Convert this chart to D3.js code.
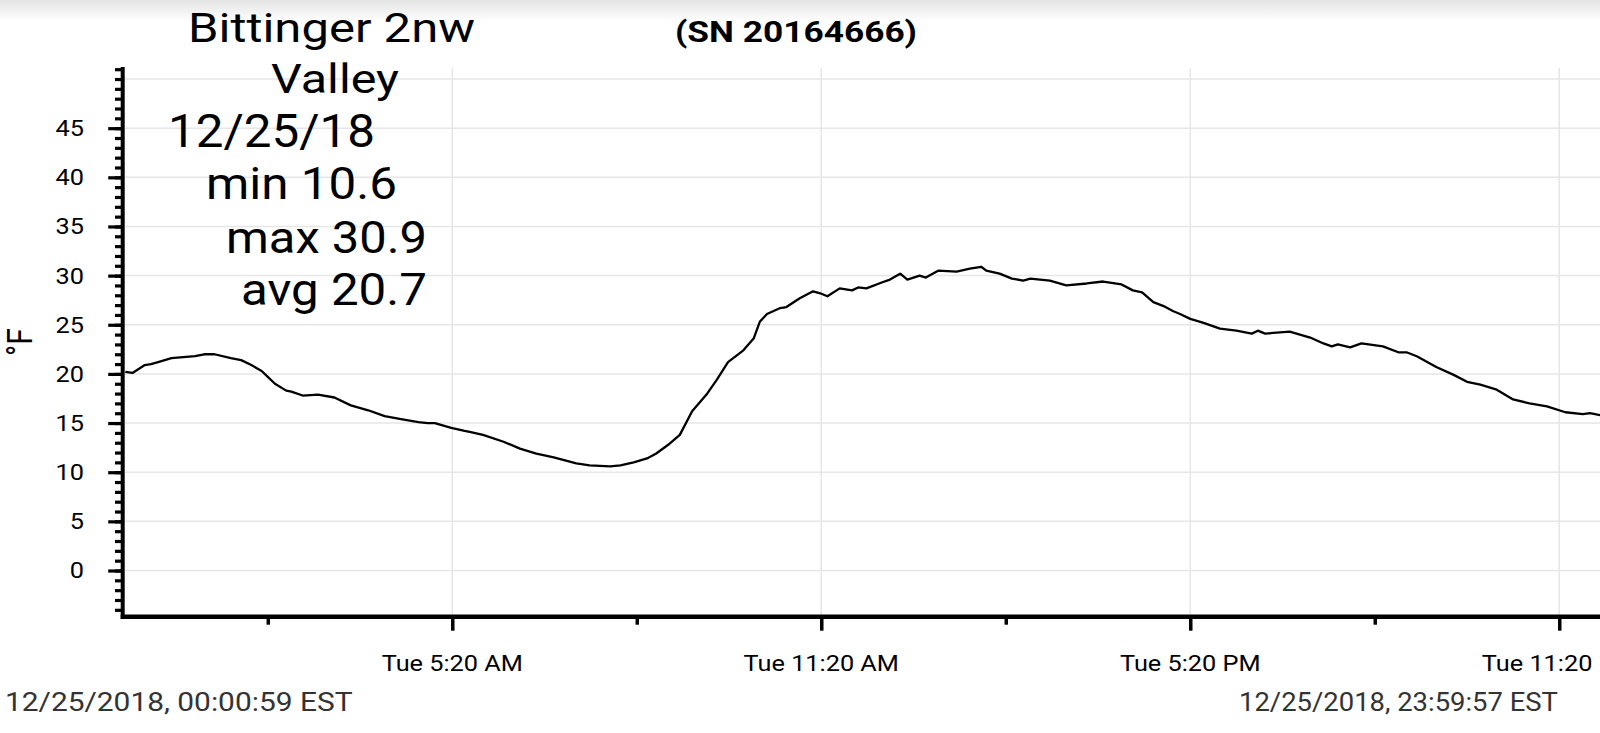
<!DOCTYPE html>
<html><head><meta charset="utf-8">
<script src="https://cdn.jsdelivr.net/npm/d3@7"></script>
<style>html,body{margin:0;padding:0;background:#fff;overflow:hidden}</style>
</head><body>
<svg id="chart" width="1600" height="733"></svg>
<script>
// ---------- data ----------
const times = ["00:00:59","00:08","00:20","00:26","00:33","00:46","01:09","01:18","01:28","01:44","01:54","02:04","02:14","02:20","02:27","02:38","02:43","02:54","03:09","03:25","03:41","03:58","04:14","04:30","04:47","04:56","05:03","05:19","05:32","05:37","05:50","06:10","06:26","06:42","06:59","07:21","07:34","07:54","08:04","08:17","08:30","08:39","08:52","09:02","09:14","09:28","09:38","09:49","10:04","10:14","10:20","10:27","10:40","10:46","10:59","11:12","11:19","11:26","11:38","11:50","11:56","12:04","12:19","12:27","12:37","12:44","12:56","13:02","13:14","13:32","13:45","13:56","14:01","14:14","14:26","14:37","14:44","15:03","15:19","15:39","15:55","16:13","16:24","16:33","16:44","16:54","17:03","17:10","17:20","17:33","17:49","18:05","18:20","18:26","18:33","18:57","19:17","19:30","19:38","19:44","19:56","20:07","20:28","20:43","20:51","21:01","21:20","21:37","21:50","22:03","22:19","22:35","22:51","23:08","23:26","23:43","23:50","23:59:57"];
const temps = [20.2,20.1,20.9,21.0,21.2,21.6,21.8,22.0,22.0,21.6,21.4,20.9,20.3,19.7,19.0,18.3,18.2,17.8,17.9,17.6,16.8,16.3,15.7,15.4,15.1,15.0,15.0,14.5,14.2,14.1,13.8,13.1,12.4,11.9,11.5,10.9,10.7,10.6,10.7,11.0,11.4,11.9,12.9,13.8,16.2,17.9,19.4,21.2,22.4,23.6,25.3,26.1,26.7,26.8,27.7,28.4,28.2,27.9,28.7,28.5,28.8,28.7,29.3,29.6,30.2,29.6,30.0,29.8,30.5,30.4,30.7,30.9,30.5,30.2,29.7,29.5,29.7,29.5,29.0,29.2,29.4,29.1,28.5,28.3,27.3,26.9,26.4,26.1,25.6,25.2,24.6,24.4,24.1,24.4,24.1,24.3,23.7,23.1,22.8,23.0,22.7,23.1,22.8,22.2,22.2,21.8,20.7,19.9,19.2,18.9,18.4,17.4,17.0,16.7,16.1,15.9,16.0,15.8];

const yMajorTicks = [0,5,10,15,20,25,30,35,40,45];
const yGridValues = [0,5,10,15,20,25,30,35,40,45,50];
const yDomain = [-4.7, 51];
const xMajorTickTimes = ["05:20","11:20","17:20","23:20"];
const xMajorTickLabels = ["Tue 5:20 AM","Tue 11:20 AM","Tue 5:20 PM","Tue 11:20 PM"];
const xMinorTickTimes = ["02:20","08:20","14:20","20:20"];
const startTime = "00:00:59", endTime = "23:59:57";

const titleLines = ["Bittinger 2nw","Valley","12/25/18","min 10.6","max 30.9","avg 20.7"];
const serialLabel = "(SN 20164666)";
const unitLabel = "°F";
const startLabel = "12/25/2018, 00:00:59 EST";
const endLabel = "12/25/2018, 23:59:57 EST";

// ---------- helpers ----------
const parse = s => { const p = s.split(":").map(Number); return new Date(2018, 11, 25, p[0], p[1], p[2] || 0); };
const data = times.map((t, i) => ({t: parse(t), v: temps[i]}));
const FONT = "Roboto, 'Noto Sans', sans-serif";
const SX = 1.15;

const svg = d3.select("#chart");
const defs = svg.append("defs");
const grad = defs.append("linearGradient").attr("id","topShade").attr("x1",0).attr("y1",0).attr("x2",0).attr("y2",1);
grad.append("stop").attr("offset","0%").attr("stop-color","#e4e4e4");
grad.append("stop").attr("offset","100%").attr("stop-color","#ffffff");
svg.append("rect").attr("x",0).attr("y",0).attr("width",1600).attr("height",733).attr("fill","#fff");
svg.append("rect").attr("x",0).attr("y",0).attr("width",1600).attr("height",22).attr("fill","url(#topShade)");

const x = d3.scaleTime().domain([parse(startTime), parse(endTime)]).range([125.3, 1600.2]);
const y = d3.scaleLinear().domain(yDomain).range([616.7, 69.2]);
const axisX = 122.7, axisY = 616.7;

// grid
svg.append("g").selectAll("line").data(yGridValues).join("line")
  .attr("x1", axisX + 2).attr("x2", 1600)
  .attr("y1", d => y(d)).attr("y2", d => y(d))
  .attr("stroke", "#e6e6e6").attr("stroke-width", 1.5);
svg.append("g").selectAll("line").data(xMajorTickTimes).join("line")
  .attr("x1", d => x(parse(d))).attr("x2", d => x(parse(d)))
  .attr("y1", 68).attr("y2", axisY)
  .attr("stroke", "#e6e6e6").attr("stroke-width", 1.5);

// line
svg.append("path").datum(data)
  .attr("fill","none").attr("stroke","#000").attr("stroke-width",2.3)
  .attr("stroke-linejoin","round")
  .attr("d", d3.line().x(d => x(d.t)).y(d => y(d.v)));

// y axis ticks
const yMinor = d3.axisLeft(y).tickValues(d3.range(-4, 52)).tickSize(7.7).tickFormat("");
const yMajor = d3.axisLeft(y).tickValues(yMajorTicks).tickSize(14.5).tickFormat("");
[yMinor, yMajor].forEach(ax => {
  const g = svg.append("g").attr("transform", `translate(${axisX},0)`).call(ax);
  g.select(".domain").remove();
  g.selectAll(".tick line").attr("stroke","#000").attr("stroke-width",3.2);
});
// x axis ticks
const xMinor = d3.axisBottom(x).tickValues(xMinorTickTimes.map(parse)).tickSize(8).tickFormat("");
const xMajor = d3.axisBottom(x).tickValues(xMajorTickTimes.map(parse)).tickSize(14).tickFormat("");
[xMinor, xMajor].forEach(ax => {
  const g = svg.append("g").attr("transform", `translate(0,${axisY})`).call(ax);
  g.select(".domain").remove();
  g.selectAll(".tick line").attr("stroke","#000").attr("stroke-width",3.5);
});
// axis lines
svg.append("line").attr("x1",axisX).attr("x2",axisX).attr("y1",67).attr("y2",axisY+2.2).attr("stroke","#000").attr("stroke-width",4);
svg.append("line").attr("x1",axisX-2).attr("x2",1600).attr("y1",axisY).attr("y2",axisY).attr("stroke","#000").attr("stroke-width",4.5);

// stretched text helper
function stext(px, py, txt, size, anchor, opts = {}) {
  return svg.append("text")
    .attr("transform", `translate(${px},${py}) scale(${SX},1)` + (opts.rotate ? ` rotate(${opts.rotate})` : ""))
    .attr("text-anchor", anchor)
    .attr("font-family", FONT)
    .attr("font-size", size)
    .attr("font-weight", opts.weight || "normal")
    .attr("fill", opts.fill || "#000")
    .attr("dy", opts.dy || null)
    .text(txt);
}

// y tick labels
yMajorTicks.forEach(v => stext(84, y(v), String(v), 22, "end", {dy: "0.36em"}));
// x tick labels (the last one runs past the right edge, as in the reference)
xMajorTickTimes.forEach((t, i) => stext(x(parse(t)), 671, xMajorTickLabels[i], 22, "middle"));

// unit label
stext(31.5, 342, unitLabel, 30, "middle", {rotate: -90});

// title block
const titleLayout = [
  {x:188, y:42, size:41, len:287},
  {x:271, y:93, size:41, len:128},
  {x:168, y:147, size:46, len:207},
  {x:206, y:199, size:45, len:191},
  {x:226, y:253, size:45, len:201},
  {x:241, y:305, size:45, len:186}
];
titleLines.forEach((t, i) => {
  const L = titleLayout[i];
  svg.append("text").attr("x", L.x).attr("y", L.y)
    .attr("font-family", FONT).attr("font-size", L.size).attr("fill","#000")
    .attr("textLength", L.len).attr("lengthAdjust","spacingAndGlyphs")
    .text(t);
});
svg.append("text").attr("x", 675).attr("y", 42)
  .attr("font-family", FONT).attr("font-size", 30).attr("font-weight","bold").attr("fill","#000")
  .attr("textLength", 242).attr("lengthAdjust","spacingAndGlyphs")
  .text(serialLabel);

// footer
stext(5, 711, startLabel, 26, "start", {fill:"#333"});
svg.append("text").attr("x", 1239).attr("y", 711)
  .attr("font-family", FONT).attr("font-size", 26).attr("fill","#333")
  .attr("textLength", 319).attr("lengthAdjust","spacingAndGlyphs")
  .text(endLabel);
</script>
</body></html>
